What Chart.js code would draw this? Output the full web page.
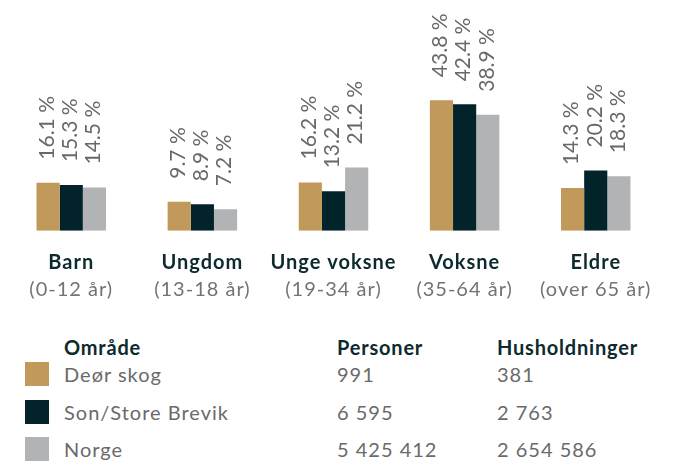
<!DOCTYPE html>
<html>
<head>
<meta charset="utf-8">
<script src="https://cdn.jsdelivr.net/npm/chart.js@4"></script>
<style>
  body { margin: 0; background: #fff; font-family: Lato, sans-serif; }
  #wrap { position: relative; width: 673px; height: 462px; }
  #chart { position: absolute; left: 0; top: 0; }
  .row { position: absolute; left: 0; width: 673px; height: 28px; line-height: 28px; font-size: 20px; letter-spacing: 1px; color: #6a6a6a; }
  .row span { position: absolute; top: 0; white-space: nowrap; }
  .row .sw { left: 25px; top: 2px; width: 24px; height: 24px; }
  .row .c1 { left: 64px; }
  .row .c2 { left: 337px; }
  .row .c3 { left: 497px; }
  .head { color: #0d2a2e; font-weight: 700; letter-spacing: 0.8px; }
</style>
</head>
<body>
<div id="wrap">
  <canvas id="chart" width="673" height="320"></canvas>
  <div id="legend"></div>
</div>
<script>
var categories = ["Barn", "Ungdom", "Unge voksne", "Voksne", "Eldre"];
var ageRanges = ["(0-12 år)", "(13-18 år)", "(19-34 år)", "(35-64 år)", "(over 65 år)"];
var seriesNames = ["Deør skog", "Son/Store Brevik", "Norge"];
var deorSkog = [16.1, 9.7, 16.2, 43.8, 14.3];
var sonStoreBrevik = [15.3, 8.9, 13.2, 42.4, 20.2];
var norge = [14.5, 7.2, 21.2, 38.9, 18.3];
var personer = ["991", "6 595", "5 425 412"];
var husholdninger = ["381", "2 763", "2 654 586"];
var colors = ["#c1995a", "#03232b", "#b1b3b4"];

// etiketter over stolpene
var valueLabels = {
  id: "valueLabels",
  afterDatasetsDraw: function(chart) {
    var ctx = chart.ctx;
    ctx.save();
    ctx.font = "400 21px Lato";
    ctx.fillStyle = "#686868";
    ctx.textAlign = "left";
    ctx.textBaseline = "middle";
    chart.data.datasets.forEach(function(ds, i) {
      chart.getDatasetMeta(i).data.forEach(function(bar, j) {
        ctx.save();
        ctx.translate(bar.x - 1, bar.y - 23);
        ctx.rotate(-Math.PI / 2);
        ctx.fillText(ds.data[j].toFixed(1) + " %", 0, 0);
        ctx.restore();
      });
    });
    ctx.restore();
  }
};

// kategorinavn under aksen
var categoryLabels = {
  id: "categoryLabels",
  afterDraw: function(chart) {
    var ctx = chart.ctx;
    var xs = chart.scales.x;
    ctx.save();
    ctx.textAlign = "center";
    ctx.textBaseline = "middle";
    ctx.letterSpacing = "1px";
    categories.forEach(function(c, i) {
      var x = xs.getPixelForValue(i);
      ctx.font = "700 20px Lato";
      ctx.fillStyle = "#0d2a2e";
      ctx.fillText(c, x, 263);
      ctx.font = "400 20px Lato";
      ctx.fillStyle = "#737373";
      ctx.fillText(ageRanges[i], x, 290);
    });
    ctx.restore();
  }
};

new Chart(document.getElementById("chart"), {
  type: "bar",
  data: {
    labels: categories,
    datasets: [
      { label: seriesNames[0], data: deorSkog, backgroundColor: colors[0] },
      { label: seriesNames[1], data: sonStoreBrevik, backgroundColor: colors[1] },
      { label: seriesNames[2], data: norge, backgroundColor: colors[2] }
    ]
  },
  options: {
    responsive: false,
    animation: false,
    datasets: { bar: { categoryPercentage: 0.53, barPercentage: 1 } },
    layout: { padding: { top: 81.7, bottom: 89.3, left: 5.7, right: 11.7 } },
    plugins: { legend: { display: false }, tooltip: { enabled: false } },
    scales: {
      x: { display: false },
      y: { display: false, min: 0, max: 50 }
    }
  },
  plugins: [valueLabels, categoryLabels]
});

// tabell med forklaring
var legend = document.getElementById("legend");
var tops = [333, 360, 398, 435];
var html = '<div class="row head" style="top:' + tops[0] + 'px"><span class="c1">Område</span><span class="c2">Personer</span><span class="c3">Husholdninger</span></div>';
seriesNames.forEach(function(n, i) {
  html += '<div class="row" style="top:' + tops[i + 1] + 'px"><span class="sw" style="background:' + colors[i] + '"></span>' +
    '<span class="c1">' + n + '</span><span class="c2">' + personer[i] + '</span><span class="c3">' + husholdninger[i] + '</span></div>';
});
legend.innerHTML = html;
</script>
</body>
</html>
